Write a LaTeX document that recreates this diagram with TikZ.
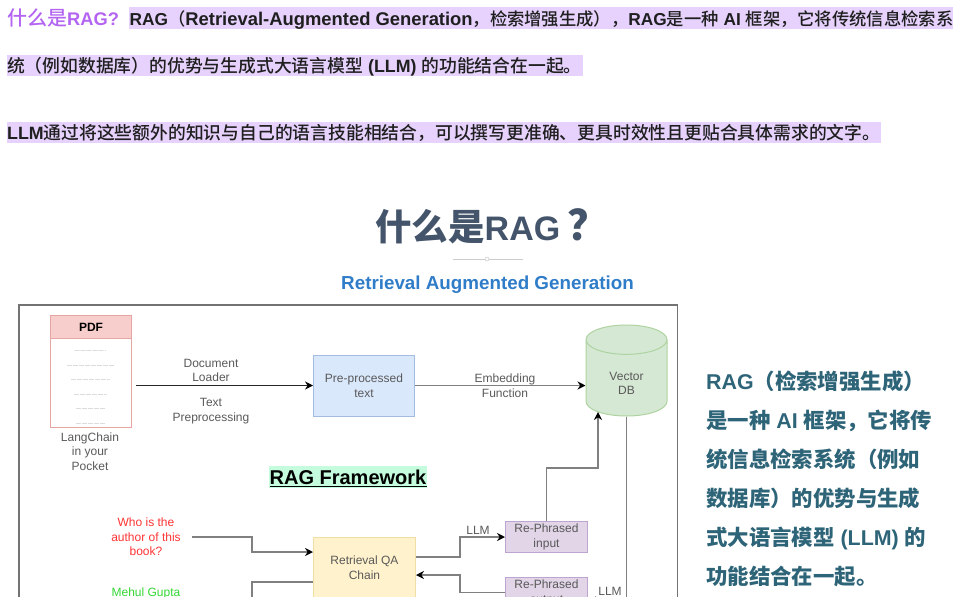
\documentclass[tikz,border=0pt]{standalone}
\usepackage{fontspec}
\setmainfont{Liberation Sans}
\newfontfamily\cjkfont{Noto Sans CJK SC}
\newfontfamily\cjkmed{Noto Sans CJK SC Medium}
\newcommand{\zh}[1]{{\cjkfont #1}}
\newcommand{\zm}[1]{{\cjkmed\mdseries #1}}
\usetikzlibrary{arrows.meta,shapes.geometric}
\definecolor{hilite}{HTML}{E6D2FD}
\definecolor{headpurple}{HTML}{B365F2}
\definecolor{slatetitle}{HTML}{44546A}
\definecolor{subblue}{HTML}{2F7CC8}
\definecolor{sideteal}{HTML}{2E6478}
\definecolor{linegrey}{HTML}{808080}
\definecolor{pdfline}{HTML}{E4A5A3}
\definecolor{pdffill}{HTML}{F8CECC}
\definecolor{blueline}{HTML}{A3BBDE}
\definecolor{bluefill}{HTML}{DAE8FC}
\definecolor{greenline}{HTML}{AFD3A0}
\definecolor{greenfill}{HTML}{D5E8D4}
\definecolor{yellowline}{HTML}{F0DFA5}
\definecolor{yellowfill}{HTML}{FFF2CC}
\definecolor{purpleline}{HTML}{BEA5D0}
\definecolor{purplefill}{HTML}{E1D5E7}
\definecolor{framegreen}{HTML}{C4FCDD}
\tikzset{
	headline/.style={anchor=base west, inner sep=0pt, font=\fontsize{17.8}{17.8}\selectfont\bfseries, text=black!88},
	sideline/.style={anchor=base west, inner sep=0pt, font=\fontsize{21.4}{21.4}\selectfont\bfseries, text=sideteal},
	flowtext/.style={align=center, inner sep=0pt, text=black!65, font=\fontsize{12}{14.7}\selectfont},
	dashline/.style={inner sep=0pt, text=black!40, font=\fontsize{5}{5}\selectfont\addfontfeature{LetterSpace=20}},
	flowbox/.style={draw, line width=1pt, align=center, inner sep=0pt, text=black!65, font=\fontsize{12}{14.7}\selectfont},
	conn/.style={draw=linegrey, line width=1.4pt},
	connarrow/.style={conn, -{Stealth[length=8pt,width=8pt,black]}}
}
\begin{document}
\begin{tikzpicture}[x=1pt, y=-1pt]
	\useasboundingbox (0,0) rectangle (956,597);
	\clip (0,0) rectangle (956,597);
	\fill[hilite] (129,7) rectangle (953,29);
	\fill[hilite] (7,55) rectangle (583,76);
	\fill[hilite] (7,122) rectangle (881,143);
	\node[headline, text=headpurple, font=\fontsize{18.3}{18.3}\selectfont\bfseries] (headq) at (7,25) {{\fontsize{20}{20}\selectfont\zm{什么是}}RAG?};
	\node[headline, font=\fontsize{17.3}{17.3}\selectfont\bfseries] (headone) at (129.5,25) {RAG\zm{（}{\fontsize{18.4}{18.4}\selectfont Retrieval-Augmented Generation}\zm{，检索增强生成），}RAG\zm{是一种} AI \zm{框架，它将传统信息检索系}};
	\node[headline] (headtwo) at (7,72.7) {\zm{统（例如数据库）的优势与生成式大语言模型} (LLM) \zm{的功能结合在一起。}};
	\node[headline] (headthree) at (7,139.5) {LLM\zm{通过将这些额外的知识与自己的语言技能相结合，可以撰写更准确、更具时效性且更贴合具体需求的文字。}};

	\node[anchor=base west, inner sep=0pt, text=slatetitle, font=\fontsize{34}{34}\selectfont\bfseries] (title) at (375,240) {{\fontsize{36.5}{36.5}\selectfont\zh{什么是}}RAG\hspace{7pt}{\fontsize{42}{42}\selectfont\zh{？}}};
	\draw[black!20] (453,259) -- (523,259);
	\filldraw[draw=black!25, fill=white] (487,259) circle (2);
	\node[anchor=base, inner sep=0pt, text=subblue, font=\fontsize{18.8}{18.8}\selectfont\bfseries] (subtitle) at (487.5,289) {Retrieval Augmented Generation};

	\draw[draw=black!55, line width=1.2pt] (19,305) rectangle (677.5,640);

	\node[flowbox, draw=pdfline, minimum width=81, minimum height=112, anchor=north west] (pdf) at (50,315) {};
	\node[flowbox, draw=pdfline, fill=pdffill, minimum width=81, minimum height=23, anchor=north west, text=black, font=\fontsize{12}{12}\selectfont\bfseries] (pdfhead) at (50,315) {PDF};
	\node[dashline] (dashone) at (90.5,352) {----------------};
	\node[dashline] (dashtwo) at (90.5,367) {------------------------};
	\node[dashline] (dashthree) at (90.5,381) {--------------------};
	\node[dashline] (dashfour) at (90.5,396) {-----------------};
	\node[dashline] (dashfive) at (90.5,410) {---------------};
	\node[dashline] (dashsix) at (90.5,425) {---------------};
	\node[flowtext] (pocket) at (90,451.5) {LangChain\\in your\\Pocket};

	\node[flowbox, draw=blueline, fill=bluefill, minimum width=101, minimum height=61] (preproc) at (364,385.5) {Pre-processed\\text};
	\node[cylinder, shape border rotate=90, aspect=4.4, draw=greenline, fill=greenfill, line width=1pt, minimum width=81, minimum height=91, anchor=south] (vectordb) at (626.5,416.5) {};
	\node[flowtext] (vectortext) at (626.5,383.5) {Vector\\DB};

	\node[flowtext] (loader) at (211,370.5) {Document\\Loader};
	\node[flowtext] (prep) at (211,411) {Text\\Preprocessing};
	\node[flowtext] (embed) at (505,385.5) {Embedding\\Function};
	\coordinate (pdfout) at (136,385.5);
	\draw[connarrow, draw=black!85] (pdfout) -- (preproc.west);
	\draw[connarrow] (preproc.east) -- (vectordb.west |- preproc.east);

	\node[inner sep=0pt, minimum width=158, minimum height=22, font=\fontsize{20}{20}\selectfont\bfseries, fill=framegreen] (ragframe) at (348,477) {RAG Framework};
	\draw[line width=1pt] (269.5,486) -- (427,486);

	\node[flowtext, text=red!80!white] (question) at (146,537) {Who is the\\author of this\\book?};
	\node[flowtext, text=green!80!black!80!white] (answer) at (146,593) {Mehul Gupta};

	\node[flowbox, draw=yellowline, fill=yellowfill, minimum width=102, minimum height=61, anchor=north west] (qachain) at (313,537) {Retrieval QA\\Chain};
	\node[flowbox, draw=purpleline, fill=purplefill, minimum width=82, minimum height=31, anchor=north west] (phrasein) at (505,521) {Re-Phrased\\input};
	\node[flowbox, draw=purpleline, fill=purplefill, minimum width=82, minimum height=31, anchor=north west] (phraseout) at (505,577) {Re-Phrased\\output};

	\draw[connarrow] (192,537) -- (252,537) -- (252,552) -- (qachain.west |- 0,552);
	\draw[conn] (qachain.west |- 0,582) -- (252,582) -- (252,600);
	\draw[connarrow] (phrasein.north) -- (phrasein.north |- 0,468) -- (598,468) -- (598,412);
	\draw[connarrow] (vectordb.south) -- (626.5,600.5) -- (phraseout.east |- 0,600.5);
	\draw[connarrow] (qachain.east |- 0,557) -- (460,557) -- (460,537) -- (phrasein.west);
	\node[fill=white, inner sep=1pt, flowtext] (llmin) at (478,530) {LLM};
	\draw[connarrow] (phraseout.west |- 0,592.5) -- (460,592.5) -- (460,575) -- (qachain.east |- 0,575);
	\node[flowtext] (llmout) at (610,591) {LLM};

	\node[sideline] (sideone) at (706,389.3) {RAG\zh{（检索增强生成）}};
	\node[sideline] (sidetwo) at (706,428.3) {\zh{是一种} AI \zh{框架，它将传}};
	\node[sideline] (sidethree) at (706,467.3) {\zh{统信息检索系统（例如}};
	\node[sideline] (sidefour) at (706,506.3) {\zh{数据库）的优势与生成}};
	\node[sideline] (sidefive) at (706,545.3) {\zh{式大语言模型} (LLM) \zh{的}};
	\node[sideline] (sidesix) at (706,584.3) {\zh{功能结合在一起。}};
\end{tikzpicture}
\end{document}
